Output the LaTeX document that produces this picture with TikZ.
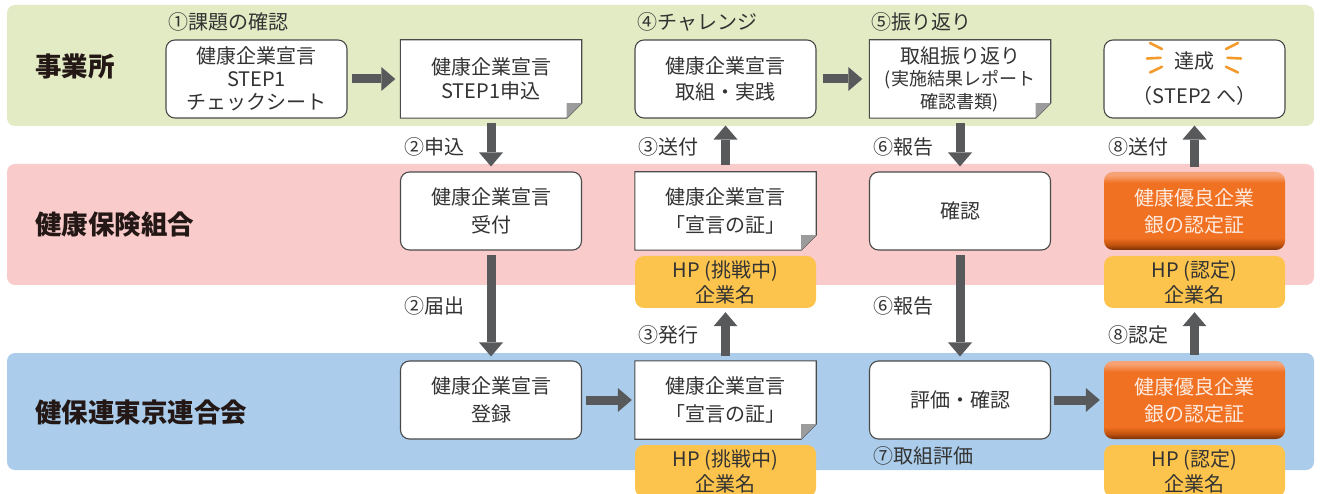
\documentclass[tikz,border=0pt]{standalone}
\usepackage{fontspec}
\setmainfont{Noto Sans CJK JP}
\usetikzlibrary{arrows.meta,backgrounds}
\definecolor{bandgreen}{HTML}{E2EBC4}
\definecolor{bandpink}{HTML}{F9CBCB}
\definecolor{bandblue}{HTML}{ABCDEB}
\definecolor{hpyellow}{HTML}{FCC44C}
\definecolor{boxline}{HTML}{4A4A4A}
\definecolor{txt}{HTML}{333333}
\definecolor{titletxt}{HTML}{231815}
\definecolor{arrowgray}{HTML}{58595B}
\definecolor{foldgray}{HTML}{9C9C9C}
\definecolor{rayorange}{HTML}{F39A2A}
\definecolor{certtext}{HTML}{FDEBE0}
\definecolor{obot}{HTML}{7A3008}
\definecolor{odark}{HTML}{C4540E}
\definecolor{omid}{HTML}{F17122}
\definecolor{otop}{HTML}{F7A274}
\pgfdeclareverticalshading{orangebevel}{100bp}{color(0bp)=(obot); color(25bp)=(obot); color(28.5bp)=(odark); color(33bp)=(omid); color(68bp)=(omid); color(73bp)=(otop); color(75bp)=(otop); color(100bp)=(otop)}
\newcommand\docframe[1]{%
  \filldraw[fill=white, draw=boxline, line width=1.1pt, line join=miter]
    (#1.north west) -- (#1.north east) -- ([yshift=15pt]#1.south east)
    -- ([xshift=-15pt]#1.south east) -- (#1.south west) -- cycle;
  \fill[foldgray] ([xshift=-15pt]#1.south east) -- ([xshift=-15pt,yshift=15pt]#1.south east)
    -- ([yshift=15pt]#1.south east) -- cycle;
}
\begin{document}
\begin{tikzpicture}[x=1pt,y=-1pt,
  every node/.style={inner sep=0pt, text=txt},
  rbox/.style={draw=boxline, line width=1.1pt, fill=white, rounded corners=9pt,
    minimum width=181pt, minimum height=78pt, align=center, font=\fontsize{20}{28}\selectfont},
  dbox/.style={minimum width=181pt, minimum height=78pt, align=center, font=\fontsize{20}{28}\selectfont},
  hpbox/.style={fill=hpyellow, rounded corners=9pt, minimum width=181pt, minimum height=52pt,
    align=center, font=\fontsize{20}{25}\selectfont},
  certbox/.style={shading=orangebevel, rounded corners=9pt, minimum width=181pt, minimum height=78pt,
    align=center, text=certtext, font=\fontsize{20}{27}\selectfont},
  lane/.style={anchor=west, font=\fontsize{26.5}{30}\selectfont\bfseries, text=titletxt},
  steplabel/.style={anchor=west, font=\fontsize{20}{24}\selectfont},
  bigarrow/.style={draw=arrowgray, line width=9pt, -{Triangle[width=24pt,length=14pt,line width=0pt]}},
  ray/.style={draw=rayorange, line width=2.6pt, line cap=round}
]
\useasboundingbox (0,0) rectangle (1320,494);

% lane titles
\node[lane] (t1) at (35,66.5) {事業所};
\node[lane] (t2) at (35,225) {健康保険組合};
\node[lane] (t3) at (35,412) {健保連東京連合会};

% row 1
\node[rbox, font=\fontsize{20}{23}\selectfont] (A) at (256.5,79) {健康企業宣言\\STEP1\\チェックシート};
\node[dbox, font=\fontsize{20}{24}\selectfont] (B) at (491,79) {健康企業宣言\\STEP1申込};
\node[rbox, font=\fontsize{20}{26}\selectfont] (C) at (725.5,79) {健康企業宣言\\取組・実践};
\node[dbox, font=\fontsize{20}{22.5}\selectfont] (D) at (960,79) {取組振り返り\\{\fontsize{18}{22.5}\selectfont (実施結果レポート}\\{\fontsize{18}{22.5}\selectfont 確認書類)}};
\node[rbox, font=\fontsize{20}{35}\selectfont] (E) at (1194.5,79) {達成\\（STEP2 へ）};

% row 2
\node[rbox] (F) at (491,211) {健康企業宣言\\受付};
\node[dbox] (G) at (725.5,211) {健康企業宣言\\「宣言の証」};
\node[hpbox] (G2) at (725.5,282) {HP (挑戦中)\\企業名};
\node[rbox] (H) at (960,211) {確認};
\node[certbox] (I) at (1194.5,211) {健康優良企業\\銀の認定証};
\node[hpbox] (I2) at (1194.5,282) {HP (認定)\\企業名};

% row 3
\node[rbox] (J) at (491,400) {健康企業宣言\\登録};
\node[dbox] (K) at (725.5,400) {健康企業宣言\\「宣言の証」};
\node[hpbox] (K2) at (725.5,471) {HP (挑戦中)\\企業名};
\node[rbox] (L) at (960,400) {評価・確認};
\node[certbox] (M) at (1194.5,400) {健康優良企業\\銀の認定証};
\node[hpbox] (M2) at (1194.5,471) {HP (認定)\\企業名};

% step labels
\node[steplabel] (s1) at (168,22) {①課題の確認};
\node[steplabel] (s4) at (637,22) {④チャレンジ};
\node[steplabel] (s5) at (871,22) {⑤振り返り};
\node[steplabel] (s2a) at (404,147) {②申込};
\node[steplabel] (s3a) at (638,147) {③送付};
\node[steplabel] (s6a) at (873,147) {⑥報告};
\node[steplabel] (s8a) at (1108,147) {⑧送付};
\node[steplabel] (s2b) at (404,306) {②届出};
\node[steplabel] (s3b) at (638,335) {③発行};
\node[steplabel] (s6b) at (873,306) {⑥報告};
\node[steplabel] (s8b) at (1108,335) {⑧認定};
\node[steplabel] (s7) at (873,456) {⑦取組評価};

% arrows
\draw[bigarrow, shorten <=4pt, shorten >=5pt] (A.east) -- (B.west);
\draw[bigarrow, shorten <=6pt, shorten >=7pt] (C.east) -- (D.west);
\draw[bigarrow, shorten <=4pt, shorten >=3pt] (J.east) -- (K.west);
\draw[bigarrow, shorten <=3pt, shorten >=4pt] (L.east) -- (M.west);
\draw[bigarrow, shorten <=5pt, shorten >=5pt] (B.south) -- (F.north);
\draw[bigarrow, shorten <=4pt, shorten >=4pt] (F.south) -- (J.north);
\draw[bigarrow, shorten <=7pt, shorten >=7pt] (G.north) -- (C.south);
\draw[bigarrow, shorten <=5pt, shorten >=4pt] (K.north) -- (G2.south);
\draw[bigarrow, shorten <=5pt, shorten >=5pt] (D.south) -- (H.north);
\draw[bigarrow, shorten <=4pt, shorten >=4pt] (H.south) -- (L.north);
\draw[bigarrow, shorten <=5pt, shorten >=7pt] (I.north) -- (E.south);
\draw[bigarrow, shorten <=6pt, shorten >=4pt] (M.north) -- (I2.south);

% rays around 達成
\draw[ray] (1150,43) -- (1162,49);
\draw[ray] (1147,58.5) -- (1160.5,57.8);
\draw[ray] (1150,72.5) -- (1162,66.8);
\draw[ray] (1238,43) -- (1226,49);
\draw[ray] (1241,58.5) -- (1227.5,57.8);
\draw[ray] (1238,72.5) -- (1226,66.8);

\begin{scope}[on background layer]
  \fill[bandgreen, rounded corners=8pt] (7,5) rectangle (1314,126);
  \fill[bandpink, rounded corners=8pt] (7,164) rectangle (1314,285);
  \fill[bandblue, rounded corners=8pt] (7,353) rectangle (1314,470);
  \docframe{B}
  \docframe{D}
  \docframe{G}
  \docframe{K}
\end{scope}
\end{tikzpicture}
\end{document}
